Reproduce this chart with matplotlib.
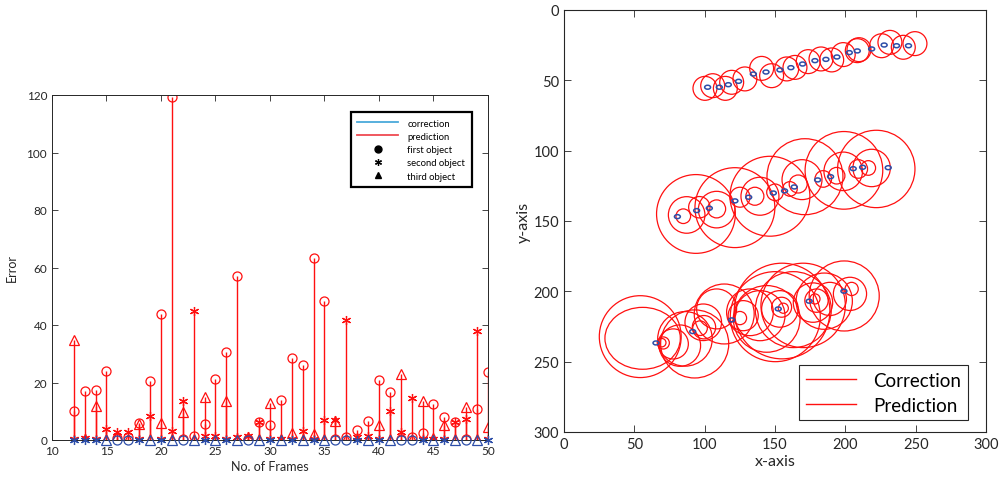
import matplotlib
matplotlib.use("Agg")
import matplotlib.pyplot as plt
from matplotlib.patches import Ellipse
from matplotlib.lines import Line2D
import numpy as np

plt.rcParams['font.family'] = ['Lato', 'DejaVu Sans']

# ---------------- Left panel data ----------------
frames = list(range(12, 51))
pred_first = [10.2, 16.9, 17.3, 23.9, 0.8, 1.0, 5.8, 20.4, 43.8, 119.2,
              0.3, 1.5, 5.6, 21.2, 30.5, 57.2, 0.5, 6.1, 5.3, 14.0,
              28.4, 26.1, 63.2, 48.5, 0.3, 1.0, 3.6, 6.7, 21.0, 16.6,
              0.3, 1.0, 2.3, 12.5, 8.1, 6.1, 0.3, 10.8, 23.5]
pred_second = [0.3, 0.8, 0.3, 3.8, 2.9, 2.9, 0.3, 8.5, 0.3, 3.2,
               13.4, 45.0, 1.5, 1.5, 0.3, 1.0, 1.5, 6.1, 0.3, 0.3,
               0.3, 3.0, 0.3, 7.1, 7.1, 41.7, 1.0, 1.3, 0.3, 10.0,
               2.9, 14.5, 0.3, 0.3, 0.3, 6.1, 7.3, 37.8, 0.3]
pred_third = [34.8, 0.3, 11.9, 0.3, 1.5, 0.3, 5.6, 0.3, 5.9, 0.3,
              9.6, 0.3, 15.1, 0.3, 13.4, 0.3, 1.2, 0.3, 12.8, 0.5,
              2.4, 0.3, 2.1, 0.3, 6.7, 0.3, 0.3, 0.3, 5.3, 0.3,
              23.0, 0.3, 13.4, 0.7, 5.2, 0.3, 11.6, 0.3, 4.4]
corr_first_frames = [16, 17, 22, 28, 36, 37, 42, 43, 48]
corr_second_frames = [12, 13, 14, 18, 20, 24, 26, 30, 32, 34, 38, 40, 44, 46, 50]
corr_third_frames = [15, 19, 21, 23, 25, 27, 29, 31, 33, 35, 39, 41, 45, 47, 49]

# ---------------- Right panel data ----------------
corr_x = [102.1, 110.4, 116.8, 124.1, 134.6, 143.6, 153.5, 161.3, 169.6, 178.4,
          186.2, 194.0, 202.8, 208.5, 218.7, 227.6, 236.4, 244.9,
          80.6, 94.3, 103.3, 121.5, 131.3, 148.8, 156.8, 163.7, 180.3, 189.5,
          205.6, 212.3, 230.5,
          65.4, 91.5, 119.2, 152.3, 174.3, 199.0]
corr_y = [54.9, 54.9, 53.1, 50.7, 45.5, 44.1, 42.6, 41.0, 38.4, 36.0,
          35.1, 33.4, 30.3, 29.1, 27.7, 24.9, 25.4, 25.4,
          146.9, 142.6, 140.9, 135.7, 133.1, 130.1, 128.6, 125.8, 120.8, 118.5,
          112.8, 111.8, 112.1,
          236.7, 228.6, 220.3, 212.5, 207.0, 199.9]

pred_x = [100.2, 105.7, 114.7, 119.2, 128.6, 140.5, 147.6, 158.3, 164.2, 173.6,
          182.7, 190.3, 198.5, 208.5, 209.7, 225.8, 231.7, 241.2, 249.5,
          84.8, 96.2, 108.5, 125.1, 135.7, 150.0, 160.6, 166.5, 184.3, 193.8,
          209.2, 216.3, 87.2, 108.5, 139.3, 169.2, 198.5, 218.7,
          93.8, 121.5, 146.4, 171.3, 199.0, 222.0,
          54.2, 55.9, 69.5, 70.6, 77.7, 82.4, 86.0, 92.9, 96.7, 99.5,
          99.0, 108.5, 113.9, 125.1, 127.4, 132.2, 139.3, 144.1, 150.2, 155.0,
          155.9, 154.7, 153.5, 163.0, 170.0, 178.4, 179.5, 177.0, 185.0, 189.0,
          199.2, 203.3, 204.5]
pred_y = [55.7, 53.8, 55.7, 51.4, 49.0, 41.5, 46.7, 41.9, 40.8, 36.7,
          34.8, 35.5, 31.7, 28.9, 28.2, 25.4, 23.0, 26.5, 23.9,
          146.6, 140.2, 141.4, 133.1, 132.4, 129.6, 127.2, 123.7, 120.1, 117.8,
          113.0, 112.3, 145.7, 141.9, 132.4, 120.6, 114.7, 112.3,
          145.0, 140.5, 132.4, 118.5, 114.0, 113.0,
          232.2, 233.4, 236.5, 236.7, 237.4, 238.6, 233.8, 237.4, 226.2, 225.5,
          222.0, 212.5, 216.1, 219.0, 217.3, 214.9, 217.3, 219.6, 218.0, 214.0,
          212.0, 211.3, 212.5, 213.0, 210.0, 205.4, 206.6, 208.0, 207.0, 205.4,
          203.3, 201.8, 198.3]
pred_w = [17.0, 17.0, 17.0, 17.0, 17.0, 17.0, 17.0, 17.0, 17.0, 17.0,
          17.0, 17.0, 17.0, 17.0, 17.0, 17.0, 17.0, 17.0, 17.0,
          10.4, 15.2, 12.8, 14.2, 12.8, 11.8, 10.4, 12.8, 11.8, 11.8,
          13.2, 10.4, 26.0, 26.0, 27.0, 28.4, 27.4, 26.6,
          56.0, 56.8, 56.8, 54.0, 55.2, 55.0,
          58.2, 53.6, 6.0, 8.6, 21.4, 29.4, 38.8, 48.4, 10.4, 16.6,
          26.0, 28.4, 42.6, 9.4, 21.4, 33.2, 35.6, 47.4, 64.0, 68.0,
          7.2, 14.2, 26.0, 54.0, 60.0, 7.2, 16.6, 28.0, 40.0, 23.6,
          49.8, 23.6, 9.4]
pred_h = [17.0, 17.0, 17.0, 17.0, 17.0, 17.0, 17.0, 17.0, 17.0, 17.0,
          17.0, 17.0, 17.0, 17.0, 17.0, 17.0, 17.0, 17.0, 17.0,
          10.4, 15.2, 12.8, 14.2, 12.8, 11.8, 10.4, 12.8, 11.8, 11.8,
          13.2, 10.4, 26.0, 26.0, 27.0, 28.4, 27.4, 26.6,
          56.0, 56.8, 56.8, 54.0, 55.2, 55.0,
          58.2, 44.0, 6.0, 8.6, 21.4, 29.4, 38.8, 48.4, 10.4, 16.6,
          26.0, 28.4, 42.6, 9.4, 21.4, 33.2, 35.6, 47.4, 64.0, 68.0,
          7.2, 14.2, 26.0, 54.0, 60.0, 7.2, 16.6, 28.0, 40.0, 23.6,
          49.8, 23.6, 9.4]
corr_w = 4.2
corr_h = 2.8

axis_ticks_left_x = [10, 15, 20, 25, 30, 35, 40, 45, 50]
axis_ticks_left_y = [0, 20, 40, 60, 80, 100, 120]
axis_ticks_right = [0, 50, 100, 150, 200, 250, 300]

RED = '#ff1010'
BLUE = '#2d4ea8'
GREY = '#262626'
ASTER = (6, 2, 0)

fig = plt.figure(figsize=(10.03, 4.85), dpi=100)

# ---------------- Left axes ----------------
ax1 = fig.add_axes([52 / 1003, 1 - 441 / 485, 436 / 1003, 345 / 485])
for vals, mk in [(pred_first, 'o'), (pred_second, ASTER), (pred_third, '^')]:
    ml, sl, bl = ax1.stem(frames, vals, linefmt='-', basefmt=' ')
    plt.setp(sl, color=RED, linewidth=1.0)
    ml.set_marker(mk)
    ml.set_markersize(6.5)
    ml.set_markeredgecolor(RED)
    ml.set_markerfacecolor('none')
    ml.set_markeredgewidth(0.9)

for fr, mk in [(corr_first_frames, 'o'), (corr_second_frames, ASTER), (corr_third_frames, '^')]:
    ax1.plot(fr, [0] * len(fr), linestyle='none', marker=mk, markersize=6.5,
             markeredgecolor=BLUE, markerfacecolor='none', markeredgewidth=0.9,
             clip_on=False, zorder=4)

ax1.set_xlim(10, 50)
ax1.set_ylim(0, 120)
ax1.set_xticks(axis_ticks_left_x)
ax1.set_yticks(axis_ticks_left_y)
ax1.tick_params(direction='in', top=True, right=True, length=4, width=0.6,
                colors=GREY, labelsize=8.5)
for s in ax1.spines.values():
    s.set_color(GREY)
    s.set_linewidth(0.7)
ax1.set_xlabel('No. of Frames', fontsize=9, color=GREY, labelpad=3)
ax1.set_ylabel('Error', fontsize=9, color=GREY, labelpad=6)

handles = [Line2D([], [], color='#4aa9da', lw=1.3),
           Line2D([], [], color='#ef4a52', lw=1.3),
           Line2D([], [], linestyle='none', marker='o', color='black', markersize=5),
           Line2D([], [], linestyle='none', marker=ASTER, color='black', markersize=5,
                  markeredgewidth=0.9),
           Line2D([], [], linestyle='none', marker='^', color='black', markersize=5)]
labels = ['correction', 'prediction', 'first object', 'second object', 'third object']
leg1 = ax1.legend(handles, labels, loc='upper right', bbox_to_anchor=(0.963, 0.951),
                  borderaxespad=0, fontsize=6.8, handlelength=4.3, handletextpad=1.0,
                  labelspacing=0.45, fancybox=False, framealpha=1, borderpad=0.7)
leg1.get_frame().set_edgecolor('black')
leg1.get_frame().set_linewidth(1.6)

# ---------------- Right axes ----------------
ax2 = fig.add_axes([564 / 1003, 1 - 433 / 485, 422 / 1003, 422 / 485])
for x, y, w, h in zip(pred_x, pred_y, pred_w, pred_h):
    ax2.add_patch(Ellipse((x, y), w, h, fill=False, edgecolor=RED, linewidth=0.9))
for x, y in zip(corr_x, corr_y):
    ax2.add_patch(Ellipse((x, y), corr_w, corr_h, fill=False, edgecolor=BLUE, linewidth=1.1,
                          zorder=3))
ax2.set_xlim(0, 300)
ax2.set_ylim(300, 0)
ax2.set_xticks(axis_ticks_right)
ax2.set_yticks(axis_ticks_right)
ax2.tick_params(direction='in', top=True, right=True, length=5, width=0.6,
                colors=GREY, labelsize=10.5)
for s in ax2.spines.values():
    s.set_color(GREY)
    s.set_linewidth(0.8)
ax2.set_xlabel('x-axis', fontsize=11.5, color=GREY, labelpad=2)
ax2.set_ylabel('y-axis', fontsize=11.5, color=GREY, labelpad=2)

h2 = [Line2D([], [], color=RED, lw=1.0), Line2D([], [], color=RED, lw=1.0)]
leg2 = ax2.legend(h2, ['Correction', 'Prediction'], loc='lower right',
                  bbox_to_anchor=(0.957, 0.028), borderaxespad=0, fontsize=13.5,
                  handlelength=2.7, handletextpad=0.9, labelspacing=0.42,
                  fancybox=False, framealpha=1, borderpad=0.35)
leg2.get_frame().set_edgecolor(GREY)
leg2.get_frame().set_linewidth(0.8)

fig.savefig('out.png', dpi=100)
